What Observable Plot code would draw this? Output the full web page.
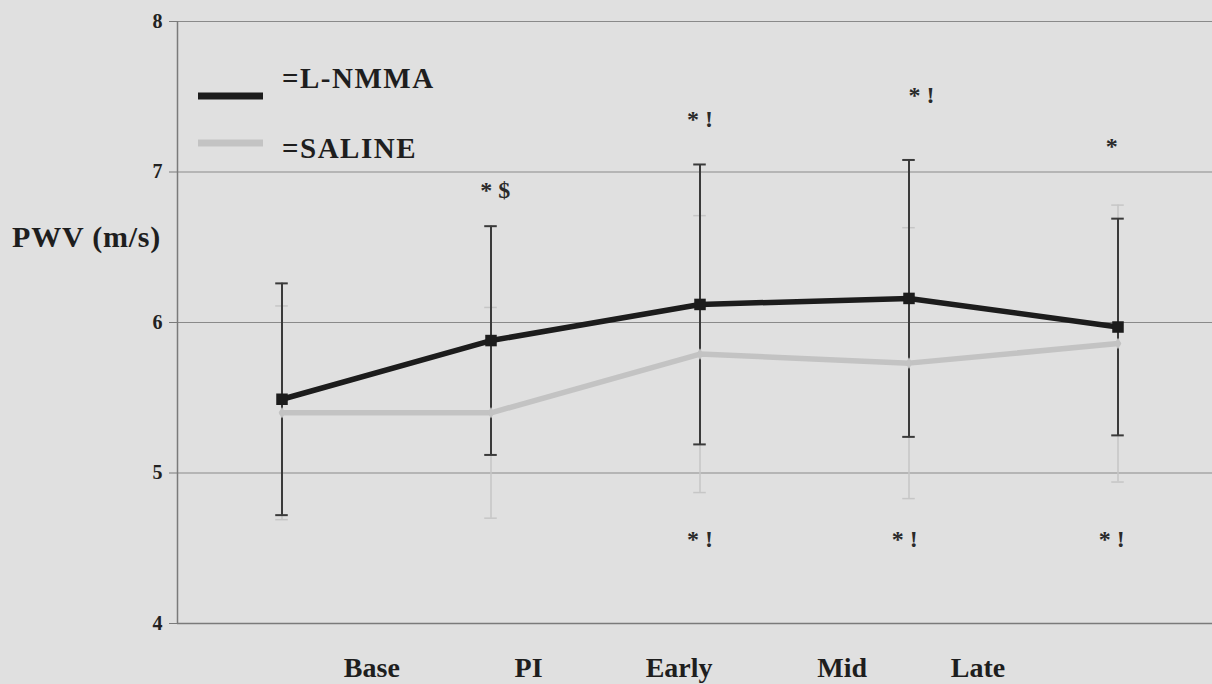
<!DOCTYPE html>
<html>
<head>
<meta charset="utf-8">
<script src="https://cdn.jsdelivr.net/npm/d3@7"></script>
<script src="https://cdn.jsdelivr.net/npm/@observablehq/plot@0.6"></script>
<style>
  html, body { margin: 0; padding: 0; background: #e0e0e0; overflow: hidden; }
  #chart { position: relative; width: 1212px; height: 684px; }
</style>
</head>
<body>
<div id="chart"></div>
<script>
// ---- data ----
const categories = ["Base", "PI", "Early", "Mid", "Late"];
const lnmmaMean = [5.49, 5.88, 6.12, 6.16, 5.97];
const lnmmaSD   = [0.77, 0.76, 0.93, 0.92, 0.72];
const salineMean = [5.40, 5.40, 5.79, 5.73, 5.86];
const salineSD   = [0.71, 0.70, 0.92, 0.90, 0.92];
const yTicks = [4, 5, 6, 7, 8];
// category label positions (in category-index units, as printed in the reference)
const labelPos = [0.43, 1.18, 1.90, 2.68, 3.33];
// significance annotations
const annText = ["* $", "* !", "* !", "*", "* !", "* !", "* !"];
const annX    = [1.02, 2.0, 3.06, 3.97, 2.0, 2.98, 3.97];
const annY    = [6.88, 7.35, 7.51, 7.17, 4.56, 4.56, 4.56];
const seriesNames = ["=L-NMMA", "=SALINE"];

// ---- tables built from arrays ----
const lnmma = categories.map((c, i) => ({i, c, m: lnmmaMean[i], lo: lnmmaMean[i] - lnmmaSD[i], hi: lnmmaMean[i] + lnmmaSD[i]}));
const saline = categories.map((c, i) => ({i, c, m: salineMean[i], lo: salineMean[i] - salineSD[i], hi: salineMean[i] + salineSD[i]}));
const labels = categories.map((c, i) => ({c, x: labelPos[i]}));
const anns = annText.map((t, k) => ({t, x: annX[k], y: annY[k]}));

const cap = 0.03;
const serif = "'Liberation Serif', 'Times New Roman', serif";
const black = "#1c1c1c", blackBar = "#3a3a3a", gray = "#c3c3c3", grayBar = "#c6c6c6";

const chart = Plot.plot({
  width: 1212,
  height: 684,
  marginLeft: 177,
  marginRight: 0,
  marginTop: 21,
  marginBottom: 61,
  style: {background: "#e0e0e0", fontFamily: serif, overflow: "visible"},
  x: {domain: [-0.5, 4.5], range: [177, 1222], axis: null},
  y: {domain: [4, 8], ticks: yTicks, tickSize: 0, label: null, axis: null},
  marks: [
    Plot.ruleY(yTicks.slice(1), {stroke: "#8a8a8a", strokeWidth: 1}),
    Plot.ruleY([4], {stroke: "#7a7a7a", strokeWidth: 1.5}),
    Plot.ruleX([-0.5], {y1: 4, y2: 8, stroke: "#7a7a7a", strokeWidth: 1.5}),
    Plot.axisY({ticks: yTicks, tickFormat: d => String(d), tickSize: 8, tickPadding: 7, stroke: "#7a7a7a", fontSize: 20, fontWeight: "bold", fill: "#222", label: null}),
    // saline error bars
    Plot.ruleX(saline, {x: "i", y1: "lo", y2: "hi", stroke: grayBar, strokeWidth: 1.5}),
    Plot.ruleY(saline, {y: "hi", x1: d => d.i - cap, x2: d => d.i + cap, stroke: grayBar, strokeWidth: 1.5}),
    Plot.ruleY(saline, {y: "lo", x1: d => d.i - cap, x2: d => d.i + cap, stroke: grayBar, strokeWidth: 1.5}),
    // L-NMMA error bars
    Plot.ruleX(lnmma, {x: "i", y1: "lo", y2: "hi", stroke: blackBar, strokeWidth: 2}),
    Plot.ruleY(lnmma, {y: "hi", x1: d => d.i - cap, x2: d => d.i + cap, stroke: blackBar, strokeWidth: 2}),
    Plot.ruleY(lnmma, {y: "lo", x1: d => d.i - cap, x2: d => d.i + cap, stroke: blackBar, strokeWidth: 2}),
    // lines
    Plot.line(saline, {x: "i", y: "m", stroke: gray, strokeWidth: 5.5}),
    Plot.dot(saline, {x: "i", y: "m", fill: gray, r: 3.5, symbol: "diamond"}),
    Plot.line(lnmma, {x: "i", y: "m", stroke: black, strokeWidth: 5.5}),
    Plot.dot(lnmma, {x: "i", y: "m", fill: black, r: 6.5, symbol: "square"}),
    // annotations
    Plot.text(anns, {x: "x", y: "y", text: "t", fontSize: 24, fontWeight: "bold", fill: "#2a2a2a", textAnchor: "middle"}),
    // category labels
    Plot.text(labels, {x: "x", text: "c", frameAnchor: "bottom", dy: 53, lineAnchor: "bottom", fontSize: 28, fontWeight: "bold", fill: "#1e1e1e", textAnchor: "middle"})
  ]
});

const svg = d3.select(chart);
// y title
svg.append("text").attr("x", 12).attr("y", 247).attr("text-anchor", "start")
  .attr("font-family", serif).attr("font-weight", "bold").attr("font-size", 30)
  .attr("letter-spacing", 0.8).attr("fill", "#1e1e1e").text("PWV (m/s)");
// legend
const legColors = [black, gray];
const legLineY = [96, 143];
const legTextY = [88, 158];
seriesNames.forEach((name, k) => {
  svg.append("line").attr("x1", 198).attr("x2", 263).attr("y1", legLineY[k]).attr("y2", legLineY[k])
    .attr("stroke", legColors[k]).attr("stroke-width", 7);
  svg.append("text").attr("x", 282).attr("y", legTextY[k]).attr("text-anchor", "start")
    .attr("font-family", serif).attr("font-weight", "bold").attr("font-size", 29)
    .attr("letter-spacing", 1.5).attr("fill", "#1e1e1e").text(name);
});

document.getElementById("chart").appendChild(chart);
</script>
</body>
</html>
